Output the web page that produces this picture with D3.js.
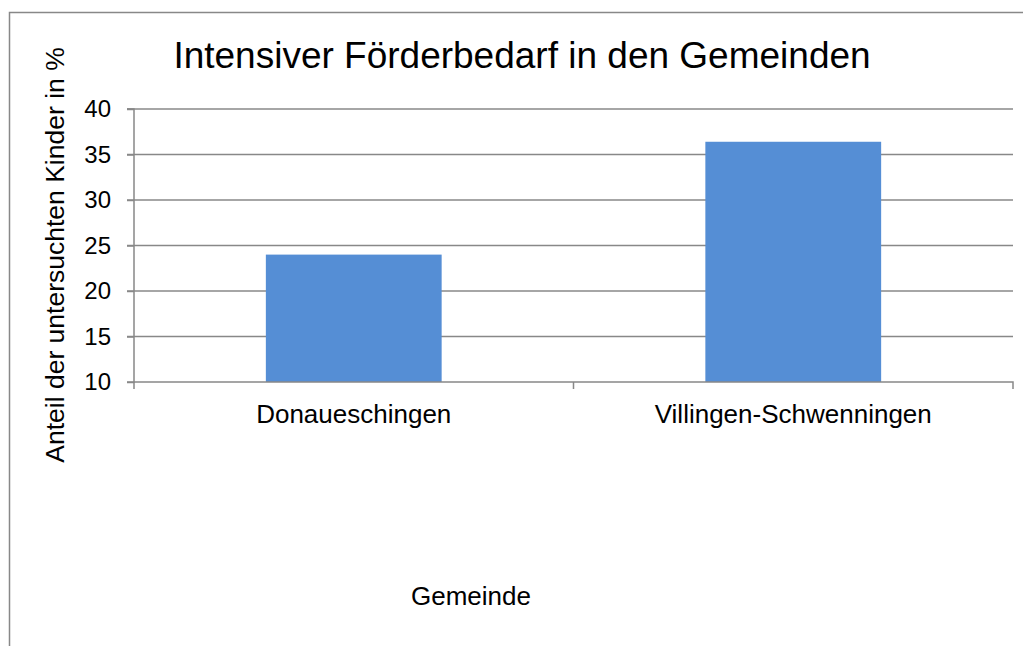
<!DOCTYPE html>
<html>
<head>
<meta charset="utf-8">
<script src="https://cdn.jsdelivr.net/npm/d3@7"></script>
<style>
  html, body { margin: 0; padding: 0; background: #fff; }
  svg { display: block; font-family: "Liberation Sans", Arial, sans-serif; }
</style>
</head>
<body>
<svg id="chart" width="1023" height="646"></svg>
<script>
const categories = ['Donaueschingen', 'Villingen-Schwenningen'];
const values = [24.0, 36.4];
const yTicks = [10, 15, 20, 25, 30, 35, 40];

const svg = d3.select('#chart');
const margin = { top: 109, right: 10, bottom: 264, left: 134 };
const width = 1023 - margin.left - margin.right;
const height = 646 - margin.top - margin.bottom;
const font = 'Liberation Sans, Arial, sans-serif';

// outer frame (only top and left edges are visible)
svg.append('path')
  .attr('d', 'M9.5,646 V12.5 H1023')
  .attr('fill', 'none')
  .attr('stroke', '#888')
  .attr('stroke-width', 1.5);

svg.append('text')
  .attr('x', 522)
  .attr('y', 68)
  .attr('text-anchor', 'middle')
  .attr('font-size', 37)
  .attr('fill', '#000')
  .text('Intensiver Förderbedarf in den Gemeinden');

const chart = svg.append('g').attr('transform', `translate(${margin.left}, ${margin.top})`);

const xScale = d3.scaleBand().domain(categories).range([0, width]).paddingInner(0.6).paddingOuter(0.3);
const xBand = d3.scaleBand().domain(categories).range([0, width]);
const yScale = d3.scaleLinear().domain([10, 40]).range([height, 0]);

// gridlines
chart.append('g')
  .selectAll('line')
  .data(yTicks.slice(1))
  .join('line')
  .attr('x1', -7)
  .attr('x2', width)
  .attr('y1', (d) => yScale(d))
  .attr('y2', (d) => yScale(d))
  .attr('stroke', '#888')
  .attr('stroke-width', 1.5);

chart.selectAll('.bar')
  .data(values)
  .join('rect')
  .attr('class', 'bar')
  .attr('x', (d, i) => xScale(categories[i]))
  .attr('width', xScale.bandwidth())
  .attr('y', (d) => yScale(d))
  .attr('height', (d) => height - yScale(d))
  .attr('fill', '#558ED5');

// y axis
const yAxisG = chart.append('g')
  .call(d3.axisLeft(yScale).tickValues(yTicks).tickSize(7).tickPadding(16));
yAxisG.selectAll('text').attr('font-size', 24).attr('fill', '#000').attr('font-family', font);
yAxisG.selectAll('line, path').attr('stroke', '#888').attr('stroke-width', 1.5);
yAxisG.select('.domain').attr('d', `M-7,${height}H0V0H-7`);

// x axis
const xAxisG = chart.append('g')
  .attr('transform', `translate(0, ${height})`)
  .call(d3.axisBottom(xBand).tickSize(0));
xAxisG.selectAll('text')
  .attr('y', 41)
  .attr('dy', null)
  .attr('font-size', 26)
  .attr('fill', '#000')
  .attr('font-family', font);
xAxisG.select('.domain')
  .attr('d', `M0,0H${width}V7M${width / 2},0V7M0,0V7`)
  .attr('stroke', '#888')
  .attr('stroke-width', 1.5);

svg.append('text')
  .attr('transform', 'translate(64, 255) rotate(-90)')
  .attr('text-anchor', 'middle')
  .attr('font-size', 26.5)
  .text('Anteil der untersuchten Kinder in %');

svg.append('text')
  .attr('x', 471)
  .attr('y', 605)
  .attr('text-anchor', 'middle')
  .attr('font-size', 26)
  .text('Gemeinde');
</script>
</body>
</html>
